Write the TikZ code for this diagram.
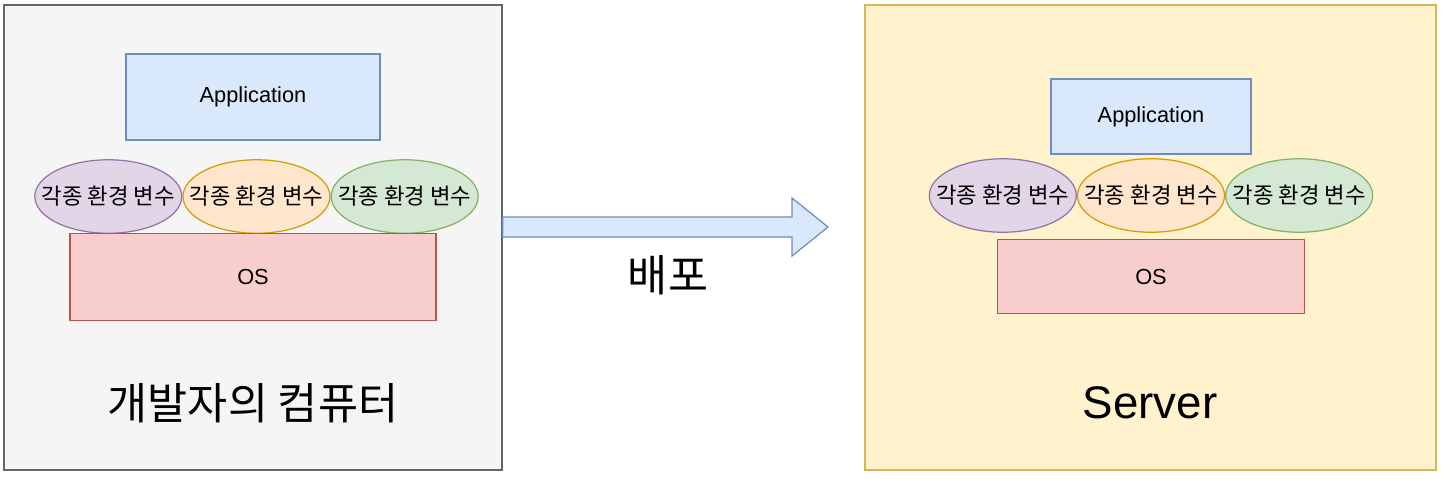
\documentclass[tikz,border=0pt]{standalone}
\usepackage{fontspec}
\setmainfont{Liberation Sans}
\newfontfamily\krfont{Noto Sans CJK KR}
\usepackage{xcolor}
\usepackage{tikz}
\usetikzlibrary{positioning, calc, shapes.geometric}

\definecolor{pcfill}{HTML}{F5F5F5}   \definecolor{pcline}{HTML}{666666}
\definecolor{srvfill}{HTML}{FFF2CC}  \definecolor{srvline}{HTML}{D6B656}
\definecolor{appfill}{HTML}{DAE8FC}  \definecolor{appline}{HTML}{6C8EBF}
\definecolor{osfill}{HTML}{F8CECC}   \definecolor{osline}{HTML}{B85450}
\definecolor{vpfill}{HTML}{E1D5E7}   \definecolor{vpline}{HTML}{9673A6}
\definecolor{vofill}{HTML}{FFE6CC}   \definecolor{voline}{HTML}{D79B00}
\definecolor{vgfill}{HTML}{D5E8D4}   \definecolor{vgline}{HTML}{82B366}

\begin{document}
\begin{tikzpicture}[
    x=0.02cm, y=-0.02cm,
    every node/.style={font=\fontsize{12.4}{14}\selectfont, inner sep=0pt},
    machine/.style={rectangle, draw=#1line, fill=#1fill, line width=0.8pt, minimum height=9.3cm},
    layer/.style={rectangle, draw=#1line, fill=#1fill, line width=0.7pt},
    envvar/.style={ellipse, draw=v#1line, fill=v#1fill, line width=0.7pt, minimum width=2.94cm, minimum height=1.47cm,
        label={[font=\krfont\fontsize{12.7}{14}\selectfont]center:각종 환경 변수}},
    biglabel/.style={font=\krfont\fontsize{24.8}{28}\selectfont},
]
\useasboundingbox (0,0) rectangle (1444,478);

% developer machine
\node[machine=pc, minimum width=9.96cm] (devpc) at (253,237.5) {};
\node[layer=app, minimum width=5.08cm, minimum height=1.72cm] (devapp) at (253,97) {Application};
\node[envvar=o] (devenv2) at (256.5,196.5) {};
\node[envvar=p, left=0pt of devenv2] (devenv1) {};
\node[envvar=g, right=0pt of devenv2] (devenv3) {};
\node[layer=os, minimum width=7.32cm, minimum height=1.74cm] (devos) at (253,277) {OS};
\node[biglabel] (devname) at (253,403) {개발자의 컴퓨터};

% server
\node[machine=srv, minimum width=11.42cm] (srv) at (1150.5,237.5) {};
\node[layer=app, minimum width=4cm, minimum height=1.5cm] (srvapp) at (1151,116.5) {Application};
\node[envvar=o] (srvenv2) at (1151,195.5) {};
\node[envvar=p, left=0pt of srvenv2] (srvenv1) {};
\node[envvar=g, right=0pt of srvenv2] (srvenv3) {};
\node[layer=os, minimum width=6.14cm, minimum height=1.48cm] (srvos) at (1151,276.5) {OS};
\node[font=\fontsize{26}{30}\selectfont] (srvname) at (1150,403) {Server};

% deploy arrow
\coordinate (deptail) at ($(devpc.east)+(0,-10.5)$);
\coordinate (deptip) at (828,227);
\draw[draw=appline, fill=appfill, line width=0.7pt]
    ($(deptail)+(0,-10)$) -- (792,217) -- (792,198) -- (deptip)
    -- (792,256) -- (792,237) -- ($(deptail)+(0,10)$) -- cycle;
\node[biglabel] (deplabel) at (668,275) {배포};
\end{tikzpicture}
\end{document}
